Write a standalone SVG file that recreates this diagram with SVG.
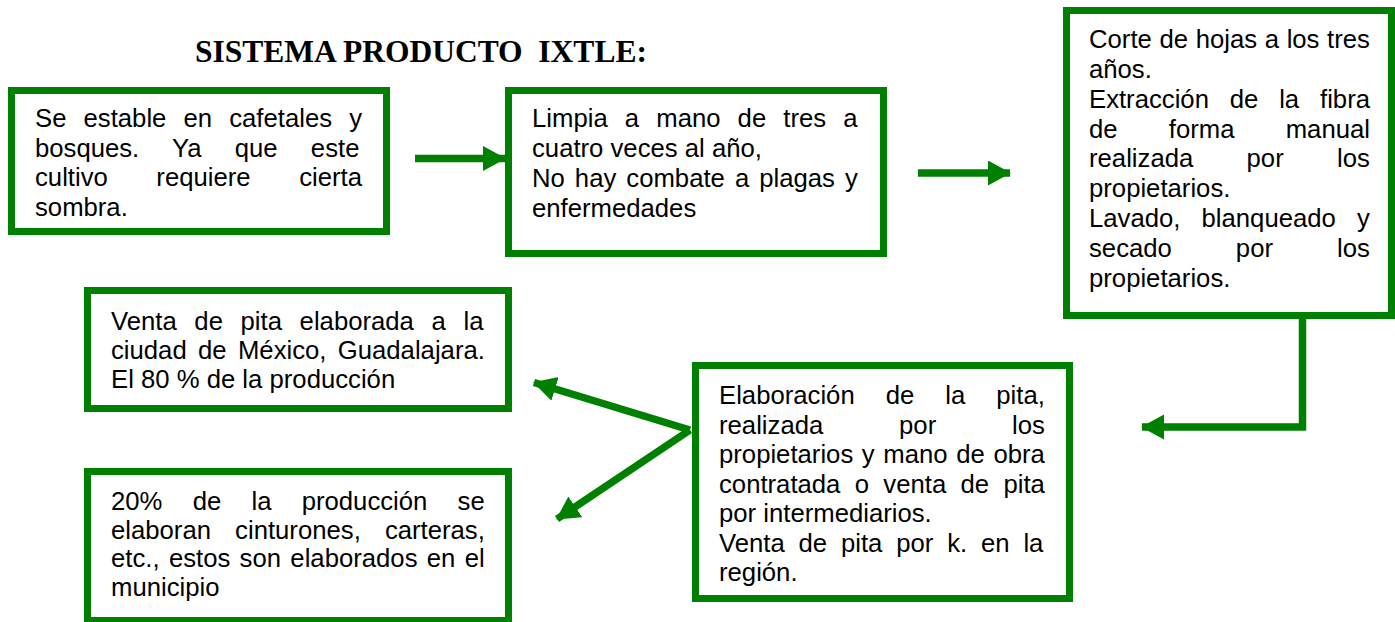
<svg xmlns="http://www.w3.org/2000/svg" width="1395" height="622" viewBox="0 0 1395 622">
<style>
.box{fill:#fff;stroke:#008000;stroke-width:7}
.t{font-family:"Liberation Sans",Arial,sans-serif;font-size:25.7px;fill:#000}
.title{font-family:"Liberation Serif","Times New Roman",serif;font-weight:bold;font-size:31.5px;fill:#000}
.c{fill:none;stroke:#008000;stroke-width:7.5}
</style>
<defs>
<marker id="ah" markerUnits="userSpaceOnUse" markerWidth="24" markerHeight="26" refX="22" refY="12.5" orient="auto">
<polygon points="0,0 23,12.5 0,25" fill="#008000"/>
</marker>
</defs>
<rect width="1395" height="622" fill="#fff"/>
<text class="title" x="195" y="62">SISTEMA PRODUCTO&#160; IXTLE:</text>

<g id="connectors">
<path class="c" d="M415,158.5 H505" marker-end="url(#ah)"/>
<path class="c" d="M918,173 H1010" marker-end="url(#ah)"/>
<path class="c" d="M1302.5,318 V427 H1142" marker-end="url(#ah)"/>
<path class="c" d="M690,430 L534,382.5" marker-end="url(#ah)"/>
<path class="c" d="M690,430 L557,519" marker-end="url(#ah)"/>
</g>

<g id="node1">
<rect class="box" x="11.5" y="90.5" width="375" height="141"/>
<text class="t">
<tspan x="35" y="127" word-spacing="10">Se estable en cafetales y</tspan>
<tspan x="35" y="156.5" word-spacing="26.1">bosques. Ya que este</tspan>
<tspan x="35" y="186" word-spacing="41.4">cultivo requiere cierta</tspan>
<tspan x="35" y="215.5">sombra.</tspan>
</text>
</g>

<g id="node2">
<rect class="box" x="508.5" y="90.5" width="375" height="163"/>
<text class="t">
<tspan x="532" y="127" word-spacing="10">Limpia a mano de tres a</tspan>
<tspan x="532" y="157">cuatro veces al año,</tspan>
<tspan x="532" y="187" word-spacing="2.9">No hay combate a plagas y</tspan>
<tspan x="532" y="217">enfermedades</tspan>
</text>
</g>

<g id="node3">
<rect class="box" x="1066.5" y="10.5" width="325" height="305"/>
<text class="t">
<tspan x="1089" y="48" word-spacing="0.5">Corte de hojas a los tres</tspan>
<tspan x="1089" y="78">años.</tspan>
<tspan x="1089" y="108" word-spacing="13.7">Extracción de la fibra</tspan>
<tspan x="1089" y="137.5" word-spacing="44.1">de forma manual</tspan>
<tspan x="1089" y="167" word-spacing="46.2">realizada por los</tspan>
<tspan x="1089" y="197">propietarios.</tspan>
<tspan x="1089" y="227" word-spacing="14">Lavado, blanqueado y</tspan>
<tspan x="1089" y="257" word-spacing="56.9">secado por los</tspan>
<tspan x="1089" y="287">propietarios.</tspan>
</text>
</g>

<g id="node4">
<rect class="box" x="695.5" y="365.5" width="374" height="233"/>
<text class="t">
<tspan x="719" y="404" word-spacing="23.9">Elaboración de la pita,</tspan>
<tspan x="719" y="433.5" word-spacing="68.7">realizada por los</tspan>
<tspan x="719" y="463" word-spacing="1.5">propietarios y mano de obra</tspan>
<tspan x="719" y="492.5" word-spacing="7.2">contratada o venta de pita</tspan>
<tspan x="719" y="522">por intermediarios.</tspan>
<tspan x="719" y="551.5" word-spacing="6.7">Venta de pita por k. en la</tspan>
<tspan x="719" y="581">región.</tspan>
</text>
</g>

<g id="node5">
<rect class="box" x="87.5" y="290.5" width="421" height="118"/>
<text class="t">
<tspan x="111" y="330" word-spacing="10.5">Venta de pita elaborada a la</tspan>
<tspan x="111" y="359" word-spacing="4.2">ciudad de México, Guadalajara.</tspan>
<tspan x="111" y="388">El 80 % de la producción</tspan>
</text>
</g>

<g id="node6">
<rect class="box" x="87.5" y="471.5" width="421" height="149"/>
<text class="t">
<tspan x="111" y="510" word-spacing="23.1">20% de la producción se</tspan>
<tspan x="111" y="538.5" word-spacing="17">elaboran cinturones, carteras,</tspan>
<tspan x="111" y="567" word-spacing="2.2">etc., estos son elaborados en el</tspan>
<tspan x="111" y="595.5">municipio</tspan>
</text>
</g>
</svg>
